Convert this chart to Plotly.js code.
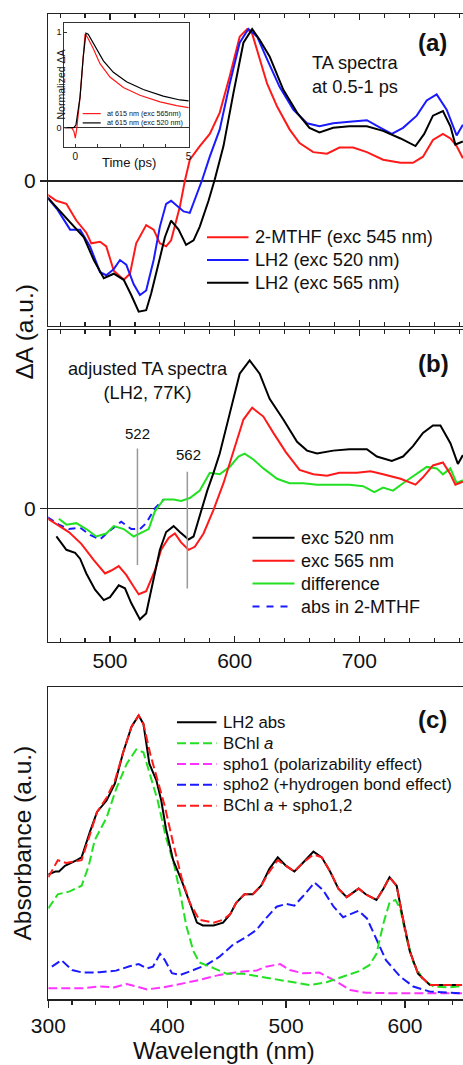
<!DOCTYPE html>
<html><head><meta charset="utf-8">
<script src="https://cdn.plot.ly/plotly-3.0.1.min.js"></script>
<style>html,body{margin:0;padding:0;background:#fff;}#chart{width:463px;height:1065px;}</style>
</head><body><div id="chart"></div>
<script>
// ---------- Panel (a): TA spectra at 0.5-1 ps ----------
const aRedX = [450,457,465,473,481,485,492,497,503,511,516,521,529,535,540,545,549,556,560,564,572,580,588,596,604,610,614,620,626,634,644,652,663,674,684,695,706,719,733,743,751,759,767,773,778,783];
const aRedY = [-0.09,-0.13,-0.15,-0.26,-0.34,-0.41,-0.40,-0.43,-0.59,-0.65,-0.61,-0.41,-0.29,-0.32,-0.41,-0.43,-0.39,-0.17,0.00,0.14,0.23,0.31,0.45,0.69,0.95,1.00,0.97,0.80,0.64,0.49,0.34,0.25,0.19,0.18,0.22,0.22,0.19,0.14,0.12,0.12,0.16,0.27,0.31,0.28,0.23,0.15];
const aBlueX = [450,458,468,476,484,492,497,503,508,513,519,524,529,535,540,545,549,553,559,564,569,574,580,588,596,604,611,618,626,636,647,658,668,679,692,706,717,726,735,746,754,762,770,778,783];
const aBlueY = [-0.11,-0.19,-0.32,-0.32,-0.43,-0.60,-0.62,-0.58,-0.52,-0.55,-0.68,-0.75,-0.72,-0.52,-0.30,-0.15,-0.13,-0.16,-0.20,-0.21,-0.10,0.01,0.16,0.34,0.64,0.91,1.00,0.95,0.80,0.62,0.47,0.38,0.36,0.38,0.39,0.40,0.35,0.31,0.35,0.43,0.53,0.57,0.47,0.30,0.37];
const aBlackX = [450,458,468,479,487,495,503,511,517,523,529,533,539,544,549,555,561,567,572,579,584,591,599,607,614,620,628,639,650,660,668,679,692,706,719,733,745,752,759,767,773,777,783];
const aBlackY = [-0.11,-0.18,-0.27,-0.37,-0.52,-0.64,-0.61,-0.65,-0.75,-0.86,-0.85,-0.74,-0.54,-0.37,-0.26,-0.32,-0.42,-0.39,-0.30,-0.13,0.01,0.23,0.58,0.91,1.00,0.93,0.82,0.60,0.45,0.35,0.32,0.35,0.36,0.36,0.33,0.28,0.23,0.31,0.43,0.46,0.36,0.24,0.26];

// ---------- Inset: kinetics at 615 nm ----------
const inRedT = [-0.48,-0.16,-0.06,0,0.06,0.21,0.35,0.43,0.53,0.79,1.09,1.53,2.12,2.85,3.74,4.47,5.0];
const inRedY = [0,0,-0.04,-0.11,-0.02,0.32,0.74,0.98,0.95,0.83,0.67,0.53,0.42,0.34,0.27,0.23,0.21];
const inBlackT = [-0.48,-0.06,0.03,0.21,0.35,0.47,0.57,0.87,1.24,1.68,2.26,3.0,3.88,4.62,5.0];
const inBlackY = [0,0,0.03,0.32,0.74,0.99,0.98,0.86,0.70,0.58,0.48,0.40,0.33,0.29,0.28];

// ---------- Panel (b): adjusted TA spectra ----------
const bBlackX = [457,465,472,476,481,488,495,500,507,512,517,524,529,535,540,545,551,556,563,567,572,578,583,588,596,604,612,620,628,639,650,658,666,679,692,706,714,726,735,743,751,759,765,773,779,783];
const bBlackY = [-0.19,-0.28,-0.30,-0.34,-0.44,-0.55,-0.62,-0.60,-0.52,-0.54,-0.64,-0.75,-0.71,-0.48,-0.28,-0.16,-0.12,-0.16,-0.21,-0.19,-0.05,0.12,0.24,0.37,0.64,0.91,1.00,0.91,0.74,0.60,0.45,0.39,0.37,0.39,0.40,0.40,0.35,0.32,0.35,0.42,0.51,0.56,0.56,0.44,0.30,0.36];
const bRedX = [450,458,467,477,487,496,501,507,513,519,523,529,536,541,547,552,557,563,568,575,583,591,599,607,614,623,631,641,652,663,674,684,698,709,719,733,745,751,759,767,773,777,783];
const bRedY = [-0.07,-0.11,-0.16,-0.24,-0.35,-0.44,-0.42,-0.39,-0.45,-0.53,-0.58,-0.56,-0.42,-0.28,-0.20,-0.17,-0.23,-0.28,-0.26,-0.17,-0.01,0.17,0.39,0.60,0.68,0.62,0.51,0.38,0.26,0.23,0.22,0.24,0.24,0.25,0.23,0.20,0.16,0.21,0.29,0.31,0.23,0.16,0.18];
const bGreenX = [459,465,473,481,489,497,503,511,519,524,531,536,543,551,557,564,572,580,588,596,603,608,615,623,634,644,655,666,679,692,703,712,719,727,735,745,754,762,767,773,778,783];
const bGreenY = [-0.07,-0.11,-0.10,-0.14,-0.19,-0.17,-0.12,-0.14,-0.19,-0.17,-0.14,-0.02,0.06,0.06,0.05,0.07,0.12,0.24,0.23,0.28,0.35,0.37,0.33,0.27,0.20,0.17,0.17,0.16,0.16,0.16,0.15,0.11,0.14,0.12,0.17,0.23,0.28,0.27,0.23,0.27,0.17,0.19];
const bBlueX = [450,459,467,476,484,492,500,509,517,524,529,536,543];
const bBlueY = [-0.06,-0.11,-0.14,-0.13,-0.18,-0.21,-0.15,-0.09,-0.14,-0.14,-0.10,0.00,0.06];
const markLines = [522, 562];

// ---------- Panel (c): absorption ----------
const cBlackX = [300,306,309,314,324,328,335,341,349,356,363,370,376,380,385,391,395,399,405,412,419,425,430,439,447,453,458,465,472,479,486,493,500,507,514,523,530,537,544,551,561,567,576,582,587,593,598,604,611,621,632,648];
const cBlackY = [0.44,0.45,0.45,0.47,0.49,0.50,0.59,0.66,0.70,0.76,0.87,0.96,1.00,0.97,0.83,0.77,0.70,0.60,0.49,0.42,0.34,0.27,0.26,0.26,0.27,0.30,0.34,0.37,0.37,0.40,0.46,0.50,0.47,0.45,0.48,0.52,0.50,0.45,0.39,0.36,0.39,0.37,0.35,0.39,0.43,0.40,0.29,0.17,0.09,0.05,0.05,0.05];
const cSumX = [300,308,315,328,335,341,349,356,363,370,376,380,386,392,398,405,412,419,427,439,447,453,458,465,472,479,486,493,500,507,514,523,530,537,544,551,561,567,576,582,587,593,598,604,611,621,632,648];
const cSumY = [0.43,0.49,0.48,0.49,0.58,0.66,0.71,0.77,0.87,0.96,1.00,0.97,0.86,0.77,0.68,0.55,0.43,0.34,0.28,0.27,0.28,0.30,0.34,0.37,0.37,0.40,0.45,0.49,0.47,0.45,0.48,0.51,0.50,0.45,0.39,0.36,0.39,0.37,0.35,0.39,0.43,0.40,0.29,0.17,0.09,0.05,0.05,0.05];
const cBchlX = [300,308,318,328,334,339,349,357,366,374,380,385,392,399,406,412,416,422,427,439,450,464,478,492,506,520,534,548,562,570,576,582,587,592,596,601,607,615,624,638,648];
const cBchlY = [0.32,0.37,0.38,0.40,0.47,0.56,0.64,0.74,0.83,0.88,0.87,0.80,0.70,0.57,0.47,0.35,0.26,0.17,0.13,0.11,0.09,0.09,0.08,0.07,0.06,0.05,0.06,0.08,0.10,0.12,0.16,0.27,0.34,0.35,0.32,0.22,0.13,0.07,0.045,0.042,0.047];
const cSpho2X = [303,311,320,329,343,357,369,376,383,388,394,398,404,411,422,433,444,455,467,475,483,492,500,507,514,524,531,540,548,561,568,576,584,596,607,621,648];
const cSpho2Y = [0.115,0.138,0.103,0.094,0.095,0.101,0.117,0.124,0.109,0.115,0.160,0.138,0.092,0.086,0.103,0.121,0.150,0.191,0.221,0.244,0.285,0.326,0.336,0.330,0.362,0.411,0.385,0.326,0.289,0.312,0.285,0.209,0.138,0.080,0.045,0.027,0.021];
const cSpho1X = [300,329,343,355,366,374,383,397,411,427,444,461,475,483,495,503,514,528,540,554,567,596,648];
const cSpho1Y = [0.039,0.039,0.045,0.042,0.054,0.045,0.035,0.042,0.054,0.068,0.086,0.097,0.101,0.115,0.124,0.103,0.092,0.094,0.068,0.033,0.023,0.021,0.021];

// ---------- labels ----------
const legA = ["2-MTHF (exc 545 nm)", "LH2 (exc 520 nm)", "LH2 (exc 565 nm)"];
const legB = ["exc 520 nm", "exc 565 nm", "difference", "abs in 2-MTHF"];
const legC = ["LH2 abs", "BChl <i>a</i>", "spho1 (polarizability effect)", "spho2 (+hydrogen bond effect)", "BChl <i>a</i> + spho1,2"];
const legIn = ["at 615 nm (exc 565nm)", "at 615 nm (exc 520 nm)"];

const RED = '#ff1a1a', BLUE = '#1a1aff', BLACK = '#000000', GREEN = '#22e022', MAG = '#ff33ff';
const FONT = 'Arial, "Liberation Sans", sans-serif';
const W = 463, H = 1065;
const px = x => x / W, py = y => 1 - y / H;

function ln(x, y, color, xa, ya, name, width, dash) {
  return {x: x, y: y, type: 'scatter', mode: 'lines', name: name, xaxis: xa, yaxis: ya,
    showlegend: false, line: {color: color, width: width || 2, dash: dash || 'solid'}, hoverinfo: 'skip'};
}

const traces = [
  ln(aRedX, aRedY, RED, 'x', 'y', legA[0]),
  ln(aBlueX, aBlueY, BLUE, 'x', 'y', legA[1]),
  ln(aBlackX, aBlackY, BLACK, 'x', 'y', legA[2]),
  ln(bBlueX, bBlueY, BLUE, 'x2', 'y2', legB[3], 2, '7px,5px'),
  ln(bGreenX, bGreenY, GREEN, 'x2', 'y2', legB[2]),
  ln(bRedX, bRedY, RED, 'x2', 'y2', legB[1]),
  ln(bBlackX, bBlackY, BLACK, 'x2', 'y2', legB[0]),
  ln(cSpho1X, cSpho1Y, MAG, 'x3', 'y3', 'spho1', 2, '9px,4px'),
  ln(cSpho2X, cSpho2Y, BLUE, 'x3', 'y3', 'spho2', 2, '9px,4px'),
  ln(cBchlX, cBchlY, GREEN, 'x3', 'y3', 'BChl a', 2, '9px,4px'),
  ln(cBlackX, cBlackY, BLACK, 'x3', 'y3', legC[0]),
  ln(cSumX, cSumY, RED, 'x3', 'y3', 'BChl a + spho1,2', 2, '9px,4px'),
  ln(inRedT, inRedY, RED, 'x4', 'y4', legIn[0], 1.2),
  ln(inBlackT, inBlackY, BLACK, 'x4', 'y4', legIn[1], 1.2)
];

const AX = '#222';
const xAB = {
  showline: true, linecolor: AX, linewidth: 1.5, mirror: 'ticks', ticks: 'inside', ticklen: 6, tickwidth: 1.2, tickcolor: AX,
  dtick: 100, tick0: 0, showgrid: false, zeroline: false,
  minor: {dtick: 20, tick0: 0, ticks: 'inside', ticklen: 4, tickwidth: 1.2, tickcolor: AX, showgrid: false},
  tickfont: {family: FONT, size: 21, color: '#111'}, domain: [px(48.3), 1], range: [450.5, 783.1]
};
const yAB = {
  showline: true, linecolor: AX, linewidth: 1.5, mirror: false, ticks: 'outside', ticklen: 7, tickwidth: 1.2, tickcolor: AX,
  tickvals: [0], ticktext: ['0'], showgrid: false, zeroline: true, zerolinecolor: AX, zerolinewidth: 1.5,
  tickfont: {family: FONT, size: 21, color: '#111'}
};

const layout = {
  width: W, height: H, margin: {l: 0, r: 0, t: 0, b: 0}, paper_bgcolor: '#fff', plot_bgcolor: 'rgba(0,0,0,0)',
  showlegend: false, font: {family: FONT, color: '#111'},
  xaxis: Object.assign({}, xAB, {anchor: 'y', showticklabels: false}),
  yaxis: Object.assign({}, yAB, {anchor: 'x', domain: [py(325.7), py(14)], range: [-0.952, 1.099]}),
  xaxis2: Object.assign({}, xAB, {anchor: 'y2', showticklabels: true}),
  yaxis2: Object.assign({}, yAB, {anchor: 'x2', domain: [py(641.7), py(330)], range: [-0.901, 1.205]}),
  xaxis3: {
    anchor: 'y3', domain: [px(48.3), 1], range: [300, 648.8], showline: true, linecolor: AX, linewidth: 1.5, mirror: true,
    ticks: 'outside', ticklen: 7, tickwidth: 1.2, tickcolor: AX, dtick: 100, tick0: 0, showgrid: false, zeroline: false,
    minor: {dtick: 20, tick0: 0, ticks: 'outside', ticklen: 4, tickwidth: 1.2, tickcolor: AX, showgrid: false},
    tickfont: {family: FONT, size: 21, color: '#111'}
  },
  yaxis3: {
    anchor: 'x3', domain: [py(999.3), py(687.3)], range: [0, 1.099], showline: true, linecolor: AX, linewidth: 1.5,
    mirror: false, ticks: '', showticklabels: false, showgrid: false, zeroline: false
  },
  xaxis4: {
    anchor: 'y4', domain: [px(64.3), px(189.3)], range: [-0.485, 5.03], showline: true, linecolor: '#333', linewidth: 1,
    mirror: true, ticks: 'inside', ticklen: 3, tickwidth: 1, tickcolor: '#333', tickvals: [0,1,2,3,4,5], ticktext: ['0','','','','','5'],
    showgrid: false, zeroline: false, tickfont: {family: FONT, size: 10, color: '#111'}
  },
  yaxis4: {
    anchor: 'x4', domain: [py(147), py(22.7)], range: [-0.203, 1.10], showline: true, linecolor: '#333', linewidth: 1,
    mirror: true, ticks: 'inside', ticklen: 3, tickwidth: 1, tickcolor: '#333', tickvals: [0, 1], ticktext: ['0', '1'],
    showgrid: false, zeroline: true, zerolinecolor: '#333', zerolinewidth: 1, tickfont: {family: FONT, size: 9, color: '#111'}
  },
  shapes: [],
  annotations: []
};

function ann(text, x, y, size, opts) {
  return Object.assign({text: text, xref: 'paper', yref: 'paper', x: px(x), y: py(y), showarrow: false,
    xanchor: 'center', yanchor: 'middle', font: {family: FONT, size: size, color: '#111'}}, opts || {});
}
function legendRow(x0, x1, y, color, dash, text, size, width) {
  layout.shapes.push({type: 'line', xref: 'paper', yref: 'paper', x0: px(x0), x1: px(x1), y0: py(y), y1: py(y),
    line: {color: color, width: width || 2, dash: dash || 'solid'}});
  layout.annotations.push(ann(text, x1 + 4.5, y, size, {xanchor: 'left'}));
}

// panel (a) legend
[RED, BLUE, BLACK].forEach((c, i) => legendRow(207, 248.5, 237.3 + i * 22.7, c, 'solid', legA[i], 18.2));
// panel (b) legend
[[BLACK,'solid'],[RED,'solid'],[GREEN,'solid'],[BLUE,'7px,7px']].forEach((c, i) => legendRow(252.5, 294.5, 537.8 + i * 22.9, c[0], c[1], legB[i], 18));
// panel (c) legend
[[BLACK,'solid'],[GREEN,'9px,4px'],[MAG,'9px,4px'],[BLUE,'9px,4px'],[RED,'9px,4px']].forEach((c, i) => legendRow(177, 216.5, 722.3 + i * 20.85, c[0], c[1], legC[i], 16.8));
// inset legend
[RED, BLACK].forEach((c, i) => legendRow(82.7, 100.7, 113.6 + i * 9.3, c, 'solid', legIn[i], 7.2, 1.2));

// marker lines in (b)
markLines.forEach((w, i) => {
  layout.shapes.push({type: 'line', xref: 'x2', yref: 'y2', x0: w, x1: w, y0: [0.405, 0.248][i], y1: [-0.383, -0.541][i],
    line: {color: '#999', width: 1.5}});
});
layout.annotations.push(
  ann('<b>(a)</b>', 432.5, 42.5, 24),
  ann('<b>(b)</b>', 433.5, 363, 24),
  ann('<b>(c)</b>', 432.5, 719.3, 24),
  ann('TA spectra<br>at 0.5-1 ps', 310, 75.5, 18.2, {xanchor: 'left', align: 'left'}),
  ann('adjusted TA spectra<br>(LH2, 77K)', 147.5, 380.5, 18.2),
  ann(String(markLines[0]), 137.5, 433.5, 15),
  ann(String(markLines[1]), 188, 454.5, 15),
  ann('Time (ps)', 129, 163, 13),
  ann('Normalized \u0394A', 60.5, 84, 10.5, {textangle: -90}),
  ann('\u0394A (a.u.)', 23.5, 332, 24.5, {textangle: -90}),
  ann('Absorbance (a.u.)', 22.5, 843, 24.5, {textangle: -90}),
  ann('Wavelength (nm)', 224, 1050, 24)
);

Plotly.newPlot('chart', traces, layout, {staticPlot: true, displayModeBar: false});
</script></body></html>
